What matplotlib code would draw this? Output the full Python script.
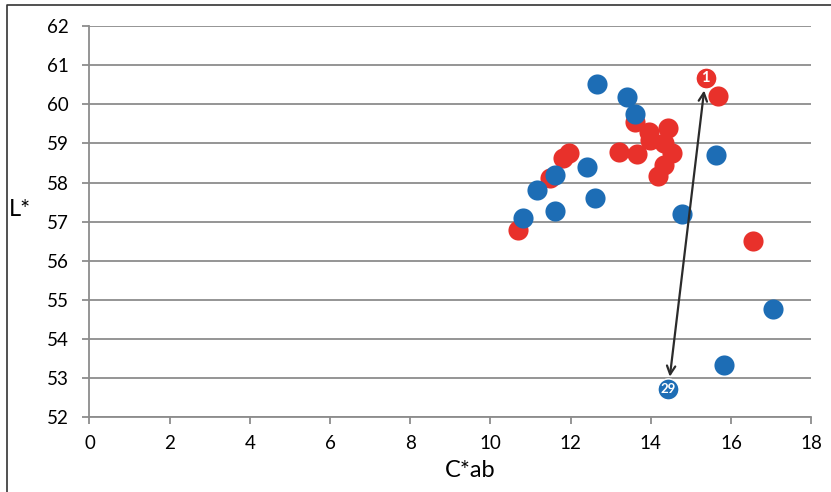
import matplotlib.pyplot as plt
from matplotlib.lines import Line2D

# red series (C*ab, L*)
red_c = [15.69, 13.62, 13.95, 13.99, 14.44, 14.34, 14.52, 14.34, 14.19,
         13.20, 13.67, 11.80, 11.95, 11.50, 10.70, 16.54]
red_l = [60.21, 59.55, 59.29, 59.09, 59.39, 59.01, 58.75, 58.45, 58.17,
         58.78, 58.73, 58.63, 58.75, 58.12, 56.79, 56.51]

# blue series
blue_c = [12.65, 13.40, 13.62, 15.64, 12.42, 11.60, 11.17, 10.82, 11.60,
          12.60, 14.79, 17.04, 15.84]
blue_l = [60.52, 60.19, 59.75, 58.70, 58.40, 58.19, 57.81, 57.09, 57.27,
          57.60, 57.20, 54.77, 53.34]

# labelled samples
start_pt = (15.37, 60.67)   # sample 1 (red)
end_pt = (14.44, 52.72)     # sample 29 (blue)

x_ticks = list(range(0, 19, 2))
y_ticks = list(range(52, 63))

RED = '#e8312b'
BLUE = '#1d6db5'
GRID = '#8c8c8c'

plt.rcParams['font.family'] = ['Lato', 'DejaVu Sans']

fig = plt.figure(figsize=(8.31, 4.92), dpi=100)
ax = fig.add_axes([0.1077, 0.1518, 0.8683, 0.7954])

ax.scatter(red_c, red_l, s=210, color=RED, linewidths=0, zorder=3)
ax.scatter(blue_c, blue_l, s=210, color=BLUE, linewidths=0, zorder=4)

ax.annotate('', xy=end_pt, xytext=start_pt,
            arrowprops=dict(arrowstyle='<->', color='#2b2b2b', lw=1.6,
                            shrinkA=9, shrinkB=9, mutation_scale=15),
            zorder=5)

ax.scatter([start_pt[0]], [start_pt[1]], s=230, color=RED,
           edgecolors='white', linewidths=1.0, zorder=6)
ax.text(start_pt[0], start_pt[1], '1', color='white', fontsize=10.5,
        fontweight='bold', ha='center', va='center', zorder=7)
ax.scatter([end_pt[0]], [end_pt[1]], s=230, color=BLUE,
           edgecolors='white', linewidths=1.0, zorder=6)
ax.text(end_pt[0], end_pt[1], '29', color='white', fontsize=9.5,
        fontweight='bold', ha='center', va='center', zorder=7)

ax.set_xlim(0, 18)
ax.set_ylim(52, 62)
ax.set_xticks(x_ticks)
ax.set_yticks(y_ticks)
ax.yaxis.grid(True, color=GRID, linewidth=1.3)
ax.set_axisbelow(True)

ax.spines['top'].set_visible(False)
ax.spines['right'].set_visible(False)
ax.spines['left'].set_color(GRID)
ax.spines['bottom'].set_color(GRID)
ax.spines['left'].set_linewidth(1.3)
ax.spines['bottom'].set_linewidth(1.3)
ax.tick_params(axis='both', colors=GRID, labelcolor='black', labelsize=13.5,
               width=1.3, length=5)
ax.tick_params(axis='y', pad=10)
ax.tick_params(axis='x', pad=8)

ax.set_xlabel('C*ab', fontsize=17)
ax.xaxis.set_label_coords(0.528, -0.136)
ax.xaxis.label.set_va('center')
ax.set_ylabel('L*', fontsize=17, rotation=0)
ax.yaxis.set_label_coords(-0.097, 0.53)
ax.yaxis.label.set_va('center')
ax.yaxis.label.set_ha('center')

# frame of the cropped figure (left and top edges)
fig.add_artist(Line2D([7 / 831, 7 / 831, 1.0], [0.0, 1 - 5 / 492, 1 - 5 / 492],
                      transform=fig.transFigure, color='#333333', lw=1.2))

fig.savefig('out.png', dpi=100)
